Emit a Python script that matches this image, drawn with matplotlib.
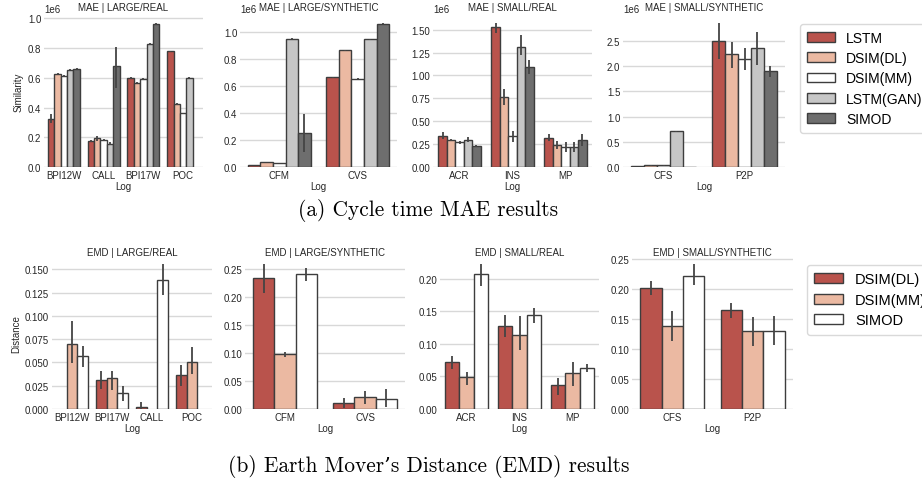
import numpy as np
import matplotlib
matplotlib.use("Agg")
import matplotlib.pyplot as plt
from matplotlib.patches import Patch
from matplotlib.ticker import MultipleLocator, ScalarFormatter

plt.rcParams['font.family'] = ['Liberation Sans', 'DejaVu Sans']

# ---------------- data ----------------
mae_models = ["LSTM", "DSIM(DL)", "DSIM(MM)", "LSTM(GAN)", "SIMOD"]
mae_colors = ["#b9534c", "#ebb9a2", "#ffffff", "#c6c6c6", "#6e6e6e"]
emd_models = ["DSIM(DL)", "DSIM(MM)", "SIMOD"]
emd_colors = ["#b9534c", "#ebb9a2", "#ffffff"]
nan = np.nan

# MAE values in units of 1e6 ; rows = models (LSTM, DSIM(DL), DSIM(MM), LSTM(GAN), SIMOD)
mae_lr_cats = ["BPI12W", "CALL", "BPI17W", "POC"]
mae_lr_mean = [[0.323, 0.176, 0.600, 0.779],
               [0.628, 0.192, 0.567, 0.424],
               [0.610, 0.183, 0.591, 0.361],
               [0.655, 0.158, 0.828, 0.600],
               [0.661, 0.680, 0.962, nan]]
mae_lr_lo = [[0.296, 0.170, 0.595, 0.776],
             [0.622, 0.178, 0.562, 0.420],
             [0.604, 0.178, 0.586, 0.358],
             [0.649, 0.145, 0.822, 0.597],
             [0.656, 0.530, 0.957, nan]]
mae_lr_hi = [[0.357, 0.182, 0.605, 0.782],
             [0.634, 0.206, 0.572, 0.428],
             [0.616, 0.188, 0.596, 0.364],
             [0.661, 0.170, 0.834, 0.603],
             [0.666, 0.810, 0.967, nan]]

mae_ls_cats = ["CFM", "CVS"]
mae_ls_mean = [[0.015, 0.666], [0.037, 0.868], [0.030, 0.656], [0.953, 0.950], [0.250, 1.065]]
mae_ls_lo = [[0.012, 0.662], [0.034, 0.864], [0.028, 0.652], [0.950, 0.946], [0.112, 1.061]]
mae_ls_hi = [[0.018, 0.670], [0.040, 0.872], [0.032, 0.660], [0.956, 0.954], [0.394, 1.069]]

mae_sr_cats = ["ACR", "INS", "MP"]
mae_sr_mean = [[0.342, 1.526, 0.320], [0.294, 0.761, 0.240], [0.268, 0.335, 0.217],
               [0.298, 1.305, 0.213], [0.232, 1.096, 0.298]]
mae_sr_lo = [[0.305, 1.460, 0.280], [0.280, 0.673, 0.195], [0.255, 0.270, 0.165],
             [0.270, 1.220, 0.160], [0.220, 1.010, 0.232]]
mae_sr_hi = [[0.386, 1.570, 0.360], [0.308, 0.857, 0.287], [0.281, 0.390, 0.275],
             [0.325, 1.440, 0.268], [0.245, 1.165, 0.360]]

mae_ss_cats = ["CFS", "P2P"]
mae_ss_mean = [[0.020, 2.50], [0.030, 2.24], [0.030, 2.15], [0.710, 2.35], [0.005, 1.895]]
mae_ss_lo = [[0.018, 2.15], [0.025, 1.97], [0.027, 1.93], [0.700, 2.03], [0.004, 1.78]]
mae_ss_hi = [[0.022, 2.85], [0.035, 2.47], [0.033, 2.36], [0.720, 2.68], [0.006, 2.01]]

# EMD values ; rows = models (DSIM(DL), DSIM(MM), SIMOD)
emd_lr_cats = ["BPI12W", "BPI17W", "CALL", "POC"]
emd_lr_mean = [[nan, 0.031, 0.0025, 0.037],
               [0.070, 0.033, nan, 0.050],
               [0.0567, 0.0169, 0.138, nan]]
emd_lr_lo = [[nan, 0.021, 0.0, 0.025],
             [0.049, 0.0208, nan, 0.0377],
             [0.0456, 0.009, 0.1227, nan]]
emd_lr_hi = [[nan, 0.0405, 0.007, 0.047],
             [0.095, 0.0405, nan, 0.067],
             [0.0675, 0.025, 0.1554, nan]]

emd_ls_cats = ["CFM", "CVS"]
emd_ls_mean = [[0.2327, 0.0107], [0.0976, 0.0208], [0.240, 0.0185]]
emd_ls_lo = [[0.207, 0.002], [0.092, 0.009], [0.229, 0.004]]
emd_ls_hi = [[0.258, 0.0196], [0.102, 0.0327], [0.251, 0.035]]

emd_sr_cats = ["ACR", "INS", "MP"]
emd_sr_mean = [[0.0716, 0.128, 0.0363], [0.049, 0.114, 0.0552], [0.207, 0.144, 0.0624]]
emd_sr_lo = [[0.061, 0.111, 0.021], [0.0363, 0.091, 0.0348], [0.189, 0.132, 0.0568]]
emd_sr_hi = [[0.081, 0.144, 0.0475], [0.0568, 0.143, 0.072], [0.222, 0.155, 0.0685]]

emd_ss_cats = ["CFS", "P2P"]
emd_ss_mean = [[0.202, 0.165], [0.138, 0.130], [0.223, 0.131]]
emd_ss_lo = [[0.190, 0.1526], [0.113, 0.106], [0.2066, 0.107]]
emd_ss_hi = [[0.214, 0.178], [0.164, 0.154], [0.242, 0.156]]

# ---------------- figure ----------------
W, H = 922, 485
fig = plt.figure(figsize=(W / 100, H / 100), dpi=100)
TXT = "#262626"


def ax_at(x0, x1, y0, y1):
    return fig.add_axes([x0 / W, 1 - y1 / H, (x1 - x0) / W, (y1 - y0) / H])


def draw(ax, cats, means, lo, hi, colors, title, step, scale=1.0, ylabel=None, tpad=4):
    n = len(means)
    w = 0.8 / n
    x = np.arange(len(cats))
    for i, (m, l, h, c) in enumerate(zip(means, lo, hi, colors)):
        xs = x - 0.4 + w * (i + 0.5)
        m = np.array(m, float) * scale
        ax.bar(xs, m, w, color=c, edgecolor="#3d3d3d", linewidth=1.0, zorder=2)
        for xx, mm, ll, hh in zip(xs, m, l, h):
            if np.isnan(mm):
                continue
            ax.plot([xx, xx], [ll * scale, hh * scale], color="#444444", lw=1.3,
                    zorder=3, solid_capstyle="butt")
    ax.set_xlim(-0.5, len(cats) - 0.5)
    ax.set_xticks(x)
    ax.set_xticklabels(cats)
    ax.yaxis.set_major_locator(MultipleLocator(step * scale))
    ax.set_ylim(bottom=0)
    for s in ax.spines.values():
        s.set_visible(False)
    ax.grid(axis="y", color="#d8d8d8", lw=1.0, zorder=0)
    ax.grid(axis="x", visible=False)
    ax.set_axisbelow(True)
    ax.tick_params(length=0, labelsize=7, colors=TXT, pad=2)
    ax.set_title(title, fontsize=7, color=TXT, pad=tpad)
    ax.set_xlabel("Log", fontsize=7, color=TXT, labelpad=1)
    if ylabel:
        ax.set_ylabel(ylabel, fontsize=7, color=TXT, labelpad=3)
    if scale != 1.0:
        fmt = ScalarFormatter(useMathText=False)
        fmt.set_scientific(True)
        fmt.set_powerlimits((0, 0))
        ax.yaxis.set_major_formatter(fmt)
        ax.yaxis.get_offset_text().set_fontsize(7)
        ax.yaxis.get_offset_text().set_color(TXT)


# top row (MAE)
a1 = ax_at(44, 203, 17, 168)
draw(a1, mae_lr_cats, mae_lr_mean, mae_lr_lo, mae_lr_hi, mae_colors, "MAE | LARGE/REAL", 0.2, 1e6, "Similarity")
a2 = ax_at(240, 397, 17, 168)
draw(a2, mae_ls_cats, mae_ls_mean, mae_ls_lo, mae_ls_hi, mae_colors, "MAE | LARGE/SYNTHETIC", 0.2, 1e6)
a3 = ax_at(433, 592, 17, 168)
draw(a3, mae_sr_cats, mae_sr_mean, mae_sr_lo, mae_sr_hi, mae_colors, "MAE | SMALL/REAL", 0.25, 1e6)
a4 = ax_at(623, 785, 17, 168)
draw(a4, mae_ss_cats, mae_ss_mean, mae_ss_lo, mae_ss_hi, mae_colors, "MAE | SMALL/SYNTHETIC", 0.5, 1e6)

# bottom row (EMD)
b1 = ax_at(52, 212, 258, 410)
draw(b1, emd_lr_cats, emd_lr_mean, emd_lr_lo, emd_lr_hi, emd_colors, "EMD | LARGE/REAL", 0.025, 1.0, "Distance", tpad=1.5)
b2 = ax_at(245, 405, 258, 410)
draw(b2, emd_ls_cats, emd_ls_mean, emd_ls_lo, emd_ls_hi, emd_colors, "EMD | LARGE/SYNTHETIC", 0.05, tpad=1.5)
b3 = ax_at(440, 599, 258, 410)
draw(b3, emd_sr_cats, emd_sr_mean, emd_sr_lo, emd_sr_hi, emd_colors, "EMD | SMALL/REAL", 0.05, tpad=1.5)
b4 = ax_at(632, 793, 258, 410)
draw(b4, emd_ss_cats, emd_ss_mean, emd_ss_lo, emd_ss_hi, emd_colors, "EMD | SMALL/SYNTHETIC", 0.05, tpad=1.5)

# legends
h1 = [Patch(facecolor=c, edgecolor="#3d3d3d", linewidth=1.0) for c in mae_colors]
fig.legend(h1, mae_models, loc="upper left", bbox_to_anchor=(800 / W, 1 - 25 / H),
           fontsize=10, frameon=True, edgecolor="#d0d0d0", fancybox=True,
           handlelength=2.0, handleheight=0.7, labelspacing=0.45, borderpad=0.5,
           handletextpad=0.8, borderaxespad=0)
h2 = [Patch(facecolor=c, edgecolor="#3d3d3d", linewidth=1.0) for c in emd_colors]
fig.legend(h2, emd_models, loc="upper left", bbox_to_anchor=(807 / W, 1 - 266 / H),
           fontsize=10.5, frameon=True, edgecolor="#d0d0d0", fancybox=True,
           handlelength=2.0, handleheight=0.7, labelspacing=0.45, borderpad=0.5,
           handletextpad=0.8, borderaxespad=0)

# captions
cap_font = ["cmr10", "DejaVu Serif"]
fig.text(428 / W, 1 - 210 / H, "(a) Cycle time MAE results", ha="center", va="center",
         family=cap_font, fontsize=15.4, color="black")
fig.text(429 / W, 1 - 467 / H, "(b) Earth Mover\u2019s Distance (EMD) results", ha="center",
         va="center", family=cap_font, fontsize=15.4, color="black")

fig.savefig("out.png", dpi=100)
